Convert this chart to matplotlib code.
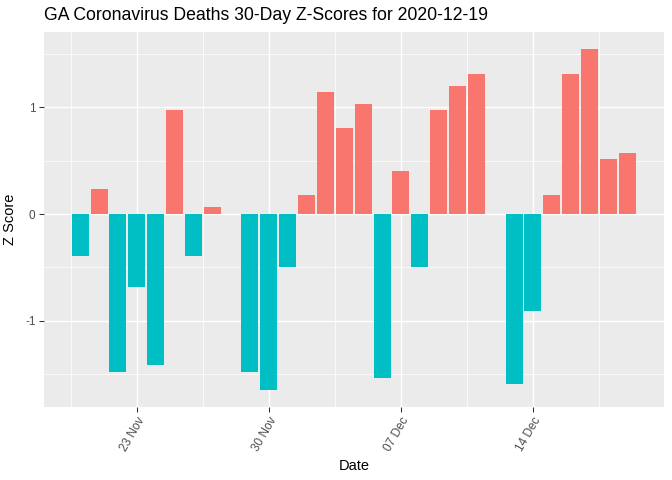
import matplotlib.pyplot as plt
import matplotlib.dates as mdates
import numpy as np
import pandas as pd

plt.rcParams['font.family'] = ['Liberation Sans', 'DejaVu Sans']

dates = pd.date_range("2020-11-20", "2020-12-19", freq="D")
z_scores = [-0.39, 0.23, -1.48, -0.68, -1.42, 0.975, -0.39, 0.066, np.nan,
            -1.48, -1.647, -0.50, 0.178, 1.144, 0.806, 1.031, -1.534, 0.403,
            -0.50, 0.975, 1.20, 1.31, np.nan, -1.59, -0.906, 0.178, 1.31,
            1.547, 0.516, 0.572]
tick_dates = pd.to_datetime(["2020-11-23", "2020-11-30", "2020-12-07", "2020-12-14"])

z = np.array(z_scores)
colors = np.where(z > 0, "#F8766D", "#00BFC4")

fig = plt.figure(figsize=(7, 5), dpi=96)
ax = fig.add_axes([43.5 / 672, 1 - 406.7 / 480, (664 - 43.5) / 672, (406.7 - 32) / 480])
ax.set_facecolor("#EBEBEB")
for s in ax.spines.values():
    s.set_visible(False)

x = mdates.date2num(dates)
ok = ~np.isnan(z)
ax.bar(x[ok], z[ok], width=0.9, color=colors[ok], zorder=3)

lo = x[0] - 0.45
hi = x[-1] + 0.45
pad = (hi - lo) * 0.05
ax.set_xlim(lo - pad, hi + pad)
ymin, ymax = np.nanmin(z), np.nanmax(z)
ypad = (ymax - ymin) * 0.05
ax.set_ylim(ymin - ypad, ymax + ypad)

tk = mdates.date2num(tick_dates)
ax.set_xticks(tk)
ax.set_xticklabels([d.strftime("%d %b") for d in tick_dates], rotation=60,
                   ha="right", va="top", rotation_mode="anchor",
                   fontsize=8.8, color="#4D4D4D")
ax.set_xticks(np.concatenate([[tk[0] - 3.5], tk + 3.5]), minor=True)
ax.set_yticks([-1, 0, 1])
ax.set_yticklabels(["-1", "0", "1"], fontsize=8.8, color="#4D4D4D")
ax.set_yticks([-1.5, -0.5, 0.5, 1.5], minor=True)

ax.grid(which="major", color="white", linewidth=1.1, zorder=1)
ax.grid(which="minor", color="white", linewidth=0.55, zorder=1)
ax.tick_params(which="major", length=3.5, color="#333333", width=0.8, pad=2.5)
ax.tick_params(which="minor", length=0)
ax.set_axisbelow(True)

ax.set_xlabel("Date", fontsize=11, labelpad=4)
ax.set_ylabel("Z Score", fontsize=11, labelpad=6)
fig.text(43.5 / 672, 1 - 16 / 480, "GA Coronavirus Deaths 30-Day Z-Scores for 2020-12-19",
         fontsize=13.2, ha="left", va="center")

fig.savefig("out.png", dpi=96)
